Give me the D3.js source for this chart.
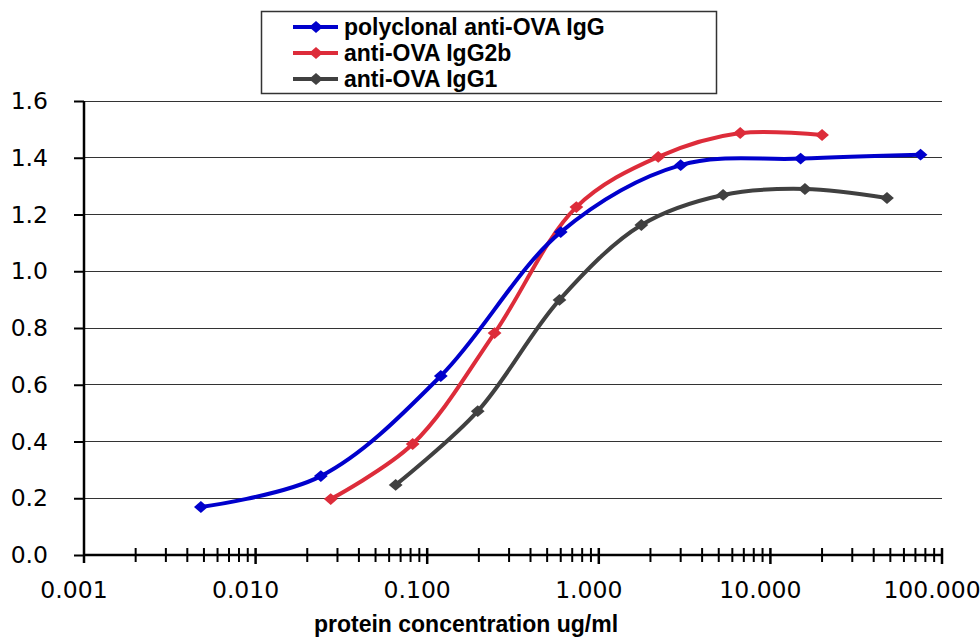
<!DOCTYPE html>
<html>
<head>
<meta charset="utf-8">
<script src="https://cdn.jsdelivr.net/npm/d3@7"></script>
<style>
  body { margin: 0; background: #fff; }
  svg { display: block; }
</style>
</head>
<body>
<script>
// data
const seriesNames = ["polyclonal anti-OVA IgG", "anti-OVA IgG2b", "anti-OVA IgG1"];
const seriesColors = ["#0000cc", "#dd2c3a", "#404040"];
const polyX = [0.0048, 0.024, 0.12, 0.6, 3, 15, 75];
const polyY = [0.169, 0.278, 0.631, 1.138, 1.374, 1.397, 1.411];
const g2bX = [0.0274, 0.0823, 0.247, 0.74, 2.22, 6.67, 20];
const g2bY = [0.197, 0.391, 0.782, 1.226, 1.403, 1.487, 1.480];
const g1X = [0.0655, 0.197, 0.59, 1.77, 5.3, 15.9, 47.8];
const g1Y = [0.247, 0.507, 0.899, 1.163, 1.269, 1.290, 1.258];
const yTicks = [0, 0.2, 0.4, 0.6, 0.8, 1.0, 1.2, 1.4, 1.6];
const xTicks = [0.001, 0.01, 0.1, 1, 10, 100];
const xTitle = "protein concentration ug/ml";

const width = 980, height = 643;
const plotL = 84, plotR = 942, plotT = 101, plotB = 555;
const tickFont = "Verdana, 'DejaVu Sans', sans-serif";
const boldFont = "Arial, 'Liberation Sans', sans-serif";

const svg = d3.select("body").append("svg")
  .attr("width", width)
  .attr("height", height);

const x = d3.scaleLog().domain([0.001, 100]).range([plotL, plotR]);
const y = d3.scaleLinear().domain([0, 1.6]).range([plotB, plotT]);

// gridlines
svg.append("g").selectAll("line")
  .data(yTicks.filter(d => d > 0))
  .enter().append("line")
  .attr("x1", plotL).attr("x2", plotR)
  .attr("y1", d => y(d)).attr("y2", d => y(d))
  .attr("stroke", "#333").attr("stroke-width", 1)
  .attr("shape-rendering", "crispEdges");

// y axis
const yAxis = svg.append("g")
  .attr("transform", `translate(${plotL},0)`)
  .call(d3.axisLeft(y).tickValues(yTicks).tickFormat(d3.format(".1f")).tickSize(10).tickPadding(26));
yAxis.select(".domain").remove();
yAxis.selectAll(".tick line").attr("stroke", "#000").attr("stroke-width", 2);
yAxis.selectAll("text")
  .attr("font-family", tickFont)
  .attr("font-size", 23.5).attr("fill", "#000");
svg.append("line")
  .attr("x1", plotL).attr("x2", plotL)
  .attr("y1", plotT).attr("y2", plotB + 8)
  .attr("stroke", "#000").attr("stroke-width", 2.5);

// x axis: minor ticks crossing the line, decade ticks a bit heavier
const minorTicks = x.ticks().filter(d => !xTicks.includes(d));
svg.append("g").selectAll("line")
  .data(minorTicks)
  .enter().append("line")
  .attr("x1", d => x(d)).attr("x2", d => x(d))
  .attr("y1", plotB - 7).attr("y2", plotB + 7)
  .attr("stroke", "#000").attr("stroke-width", 2);
svg.append("g").selectAll("line")
  .data(xTicks.slice(1))
  .enter().append("line")
  .attr("x1", d => x(d)).attr("x2", d => x(d))
  .attr("y1", plotB - 7).attr("y2", plotB + 9)
  .attr("stroke", "#000").attr("stroke-width", 2.5);
svg.append("line")
  .attr("x1", plotL).attr("x2", plotR + 1)
  .attr("y1", plotB).attr("y2", plotB)
  .attr("stroke", "#000").attr("stroke-width", 2.5);

svg.append("g").selectAll("text")
  .data(xTicks)
  .enter().append("text")
  .attr("x", d => x(d) - 10)
  .attr("y", plotB + 43)
  .attr("text-anchor", "middle")
  .attr("font-family", tickFont)
  .attr("font-size", 23.5)
  .text(d3.format(".3f"));

svg.append("text")
  .attr("x", 466).attr("y", 632)
  .attr("text-anchor", "middle")
  .attr("font-family", boldFont)
  .attr("font-weight", "bold")
  .attr("font-size", 23)
  .text(xTitle);

// series
const series = [
  {name: seriesNames[0], color: seriesColors[0], pts: polyX.map((v, i) => [v, polyY[i]])},
  {name: seriesNames[1], color: seriesColors[1], pts: g2bX.map((v, i) => [v, g2bY[i]])},
  {name: seriesNames[2], color: seriesColors[2], pts: g1X.map((v, i) => [v, g1Y[i]])}
];

const line = d3.line()
  .x(d => x(d[0]))
  .y(d => y(d[1]))
  .curve(d3.curveCatmullRom.alpha(0.5));

// excel diamonds are a touch wider than tall
const diamond = d3.symbol().type(d3.symbolDiamond2).size(100);

// draw back to front so blue sits on top like the original
series.slice().reverse().forEach(s => {
  svg.append("path")
    .datum(s.pts)
    .attr("d", line)
    .attr("fill", "none")
    .attr("stroke", s.color)
    .attr("stroke-width", 4);
  svg.append("g").selectAll("path")
    .data(s.pts)
    .enter().append("path")
    .attr("transform", d => `translate(${x(d[0])},${y(d[1])}) scale(1.1,0.95)`)
    .attr("d", diamond)
    .attr("fill", s.color);
});

// legend
const legend = svg.append("g");
legend.append("rect")
  .attr("x", 261.5).attr("y", 11.5)
  .attr("width", 455).attr("height", 82)
  .attr("fill", "#fff")
  .attr("stroke", "#333").attr("stroke-width", 1.5);

const rows = legend.selectAll("g")
  .data(series)
  .enter().append("g")
  .attr("transform", (d, i) => `translate(0,${27 + i * 26})`);
rows.append("line")
  .attr("x1", 293).attr("x2", 338)
  .attr("stroke", d => d.color).attr("stroke-width", 4);
rows.append("path")
  .attr("transform", "translate(316,0) scale(1.1,0.95)")
  .attr("d", diamond)
  .attr("fill", d => d.color);
rows.append("text")
  .attr("x", 344).attr("y", 7.5)
  .attr("font-family", boldFont)
  .attr("font-weight", "bold")
  .attr("font-size", 23)
  .text(d => d.name);
</script>
</body>
</html>
